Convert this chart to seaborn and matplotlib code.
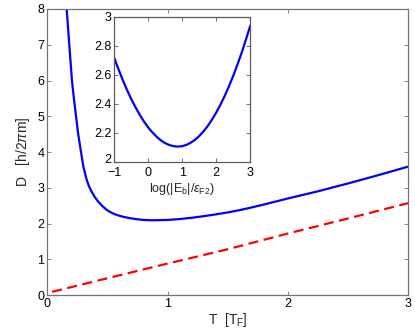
import numpy as np
import pandas as pd
import matplotlib
matplotlib.use('Agg')
import matplotlib.pyplot as plt
import matplotlib.transforms as mtransforms
import seaborn as sns

# main curve, blue
t_blue = [0.161, 0.172, 0.183, 0.194, 0.205, 0.221, 0.239, 0.257, 0.278, 0.29,
          0.30, 0.314, 0.328, 0.347, 0.369, 0.395, 0.424, 0.458, 0.494, 0.535,
          0.577, 0.63, 0.688, 0.745, 0.80, 0.87, 0.94, 1.0, 1.1, 1.2,
          1.3, 1.4, 1.5, 1.6, 1.7, 1.8, 1.9, 2.0, 2.25, 2.5,
          2.75, 3.0]
d_blue = [8.0, 7.5, 7.0, 6.5, 6.0, 5.5, 5.0, 4.5, 4.05, 3.8,
          3.59, 3.4, 3.22, 3.04, 2.89, 2.74, 2.61, 2.49, 2.38, 2.30,
          2.24, 2.19, 2.15, 2.12, 2.10, 2.09, 2.095, 2.10, 2.125, 2.16,
          2.205, 2.255, 2.31, 2.375, 2.45, 2.53, 2.615, 2.70, 2.90, 3.12,
          3.35, 3.59]

# red dashed line
t_red = [0.04, 0.5, 1.0, 1.5, 2.0, 2.5, 3.0]
d_red = [0.09, 0.47, 0.88, 1.28, 1.72, 2.14, 2.57]

# inset curve
x_inset = [-1.0, -0.875, -0.75, -0.625, -0.5, -0.375, -0.25, -0.125, 0.0, 0.125,
           0.25, 0.375, 0.5, 0.625, 0.75, 0.875, 1.0, 1.125, 1.25, 1.375,
           1.5, 1.625, 1.75, 1.875, 2.0, 2.125, 2.25, 2.375, 2.5, 2.625,
           2.75, 2.875, 3.0]
y_inset = [2.720, 2.641, 2.567, 2.498, 2.435, 2.378, 2.326, 2.279, 2.238, 2.203,
           2.173, 2.148, 2.129, 2.116, 2.108, 2.105, 2.108, 2.117, 2.132, 2.152,
           2.178, 2.210, 2.247, 2.291, 2.340, 2.395, 2.455, 2.522, 2.594, 2.672,
           2.755, 2.845, 2.940]

sns.set_style('ticks')
plt.rcParams['font.family'] = ['Liberation Sans', 'DejaVu Sans']
plt.rcParams['mathtext.fontset'] = 'custom'
plt.rcParams['mathtext.rm'] = 'Liberation Sans'
plt.rcParams['mathtext.it'] = 'Liberation Sans:italic'
plt.rcParams['font.size'] = 9

fig = plt.figure(figsize=(4.15, 3.33), dpi=100)
ax = fig.add_axes([0.114, 0.114, 0.869, 0.859])

main_df = pd.DataFrame({'T': t_blue, 'D': d_blue})
red_df = pd.DataFrame({'T': t_red, 'D': d_red})
sns.lineplot(data=main_df, x='T', y='D', ax=ax, color='#0000ff', linewidth=1.6, sort=False)
sns.lineplot(data=red_df, x='T', y='D', ax=ax, color='#ff0000', linewidth=1.6,
             linestyle=(0, (4.5, 2.5)))

ax.set_xlim(0, 3)
ax.set_ylim(0, 8)
ax.set_xticks([0, 1, 2, 3])
ax.set_yticks(range(0, 9))
ax.set_xlabel(r'T  [T$_\mathrm{F}$]', fontsize=10, labelpad=1)
ax.set_ylabel(r'D   [h/2$\pi$m]', fontsize=10, labelpad=4)
ax.tick_params(direction='in', top=True, right=True, length=3, width=0.6,
               colors='0.45', labelcolor='black', labelsize=9, pad=2)
for s in ax.spines.values():
    s.set_color('0.45')
    s.set_linewidth(0.9)

# inset
axi = fig.add_axes([0.275, 0.514, 0.328, 0.435])
inset_df = pd.DataFrame({'x': x_inset, 'y': y_inset})
sns.lineplot(data=inset_df, x='x', y='y', ax=axi, color='#0000ff', linewidth=1.6)
axi.set_xlim(-1, 3)
axi.set_ylim(2, 3)
axi.set_xticks([-1, 0, 1, 2, 3])
axi.set_yticks([2, 2.2, 2.4, 2.6, 2.8, 3])
axi.set_yticklabels(['2', '2.2', '2.4', '2.6', '2.8', '3'])
axi.set_xticklabels(['\u22121', '0', '1', '2', '3'])
axi.set_xlabel(r'log(|E$_\mathrm{b}$|/$\varepsilon_\mathrm{F2}$)', fontsize=9, labelpad=1)
axi.set_ylabel('')
axi.tick_params(direction='in', top=True, right=True, length=3, width=0.6,
                colors='0.35', labelcolor='black', labelsize=9)
axi.tick_params(axis='x', pad=4)
axi.tick_params(axis='y', pad=2)
for s in axi.spines.values():
    s.set_color('0.35')
    s.set_linewidth(0.9)

# lift the bottom "2" of the inset a little so it clears the "-1" below
lbl = axi.get_yticklabels()[0]
lbl.set_transform(lbl.get_transform() + mtransforms.ScaledTranslation(0, 2.5 / 72, fig.dpi_scale_trans))

fig.savefig('out.png', dpi=100)
